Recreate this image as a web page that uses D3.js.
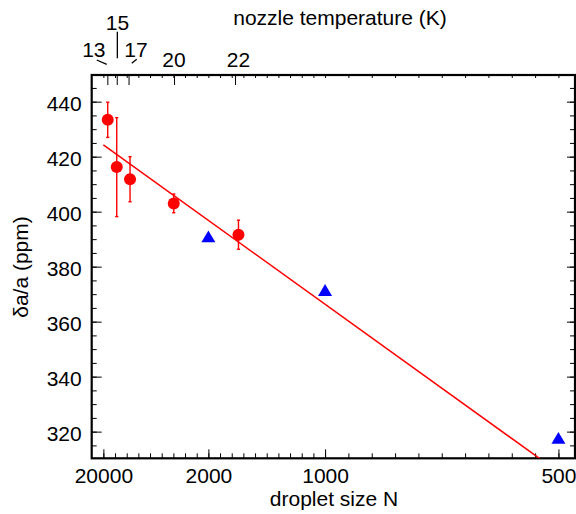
<!DOCTYPE html>
<html>
<head>
<meta charset="utf-8">
<script src="https://cdn.jsdelivr.net/npm/d3@7"></script>
<style>
  html, body { margin: 0; padding: 0; background: #fff; }
  svg text { font-family: "Liberation Sans", Arial, Helvetica, sans-serif; fill: #000; }
</style>
</head>
<body>
<svg id="chart" width="576" height="514"></svg>
<script>
// ---- data ----
// droplet sizes N of the measurements (red circles) and values in ppm with errors
const circleN     = [14560, 9320, 6087, 2844, 1590];
const circleVal   = [433.4, 416.2, 411.8, 403.0, 391.6];
const circleErr   = [6.4, 18.0, 8.2, 3.4, 5.3];
// blue triangles
const triN        = [2000, 1000, 500];
const triVal      = [390.9, 371.4, 317.6];
// fitted line endpoints (N, value)
const fitN        = [20000, 500];
const fitVal      = [424.3, 305.3];
// bottom axis labels (droplet size N)
const bottomTickN = [20000, 2000, 1000, 500];
const bottomTickLabels = ["20000", "2000", "1000", "500"];
// y ticks
const yTicks      = [320, 340, 360, 380, 400, 420, 440];
// top axis: nozzle temperature (K) and corresponding droplet sizes
const topTickN    = [14925, 9320, 6335, 2834, 1628];
const topTickLabels = ["13", "15", "17", "20", "22"];

// ---- layout ----
const W = 576, H = 514;
const L = 91.7, R = 575, T = 75, B = 458.3;
const svg = d3.select("#chart");

const x = d3.scaleLinear().domain([0, 0.002071]).range([L, R]);
const y = d3.scaleLinear().domain([310.3, 449.7]).range([B, T]);
const inv = n => 1 / n;

// minor tick values in 1/N
const minorX = [];
for (let i = 1; i <= 20; i++) minorX.push(+(i * 0.00005).toFixed(6));
for (let i = 11; i <= 20; i++) minorX.push(+(i * 0.0001).toFixed(6));
const minorY = d3.range(315, 450, 5);

const FS = 21;

// clip
svg.append("clipPath").attr("id", "clip").append("rect")
  .attr("x", L).attr("y", T).attr("width", R - L).attr("height", B - T);

// bottom minor ticks
svg.append("g").attr("transform", `translate(0,${B})`)
  .call(d3.axisBottom(x).tickValues(minorX).tickSize(-5).tickFormat(""))
  .call(g => g.select(".domain").remove());
// bottom major ticks + labels
svg.append("g").attr("transform", `translate(0,${B})`)
  .call(d3.axisBottom(x).tickValues(bottomTickN.map(inv)).tickSize(-9).tickPadding(9.8)
        .tickFormat((d, i) => bottomTickLabels[i]))
  .call(g => g.select(".domain").remove())
  .call(g => g.selectAll("text").style("font-size", FS + "px"));

// top minor ticks
svg.append("g").attr("transform", `translate(0,${T})`)
  .call(d3.axisTop(x).tickValues(minorX).tickSize(-3).tickFormat(""))
  .call(g => g.select(".domain").remove());
// top major ticks
svg.append("g").attr("transform", `translate(0,${T})`)
  .call(d3.axisTop(x).tickValues(topTickN.map(inv)).tickSize(-10).tickFormat(""))
  .call(g => g.select(".domain").remove());

// left axis
svg.append("g").attr("transform", `translate(${L},0)`)
  .call(d3.axisLeft(y).tickValues(minorY).tickSize(-5).tickFormat(""))
  .call(g => g.select(".domain").remove());
svg.append("g").attr("transform", `translate(${L},0)`)
  .call(d3.axisLeft(y).tickValues(yTicks).tickSize(-10).tickPadding(10).tickFormat(d3.format("d")))
  .call(g => g.select(".domain").remove())
  .call(g => g.selectAll("text").style("font-size", FS + "px").attr("dy", "0.4em"));

// right axis
svg.append("g").attr("transform", `translate(${R},0)`)
  .call(d3.axisRight(y).tickValues(minorY).tickSize(-5).tickFormat(""))
  .call(g => g.select(".domain").remove());
svg.append("g").attr("transform", `translate(${R},0)`)
  .call(d3.axisRight(y).tickValues(yTicks).tickSize(-8).tickFormat(""))
  .call(g => g.select(".domain").remove());

// frame
svg.append("rect").attr("x", L).attr("y", T).attr("width", R - L).attr("height", B - T)
  .attr("fill", "none").attr("stroke", "#000").attr("stroke-width", 2.2);

// top tick labels with leader lines (annotation offsets)
const topAnno = [
  { dx: -13.5, by: 56.7, line: [[-10.6, 60], [-0.6, 64.3]] },
  { dx: 0.8,   by: 30,   line: [[0.6, 31.7], [0.6, 58.3]] },
  { dx: 7.5,   by: 56.7, line: [[3.2, 63.3], [8.2, 59.3]] },
  { dx: 0,     by: 67.3, line: null },
  { dx: 3.5,   by: 67.3, line: null }
];
const topG = svg.append("g");
topTickN.forEach((n, i) => {
  const cx = x(inv(n)), a = topAnno[i];
  topG.append("text").attr("x", cx + a.dx).attr("y", a.by)
    .attr("text-anchor", "middle").style("font-size", FS + "px").text(topTickLabels[i]);
  if (a.line) {
    topG.append("line")
      .attr("x1", cx + a.line[0][0]).attr("y1", a.line[0][1])
      .attr("x2", cx + a.line[1][0]).attr("y2", a.line[1][1])
      .attr("stroke", "#000").attr("stroke-width", 1.3);
  }
});

// axis titles
svg.append("text").attr("x", 340).attr("y", 25).attr("text-anchor", "middle")
  .style("font-size", FS + "px").text("nozzle temperature (K)");
svg.append("text").attr("x", 334).attr("y", 506).attr("text-anchor", "middle")
  .style("font-size", FS + "px").text("droplet size N");
svg.append("text").attr("transform", "translate(28,267) rotate(-90)").attr("text-anchor", "middle")
  .style("font-size", FS + "px").text("δa/a (ppm)");

// fit line
const plot = svg.append("g").attr("clip-path", "url(#clip)");
plot.append("path")
  .datum(fitN.map((n, i) => [inv(n), fitVal[i]]))
  .attr("d", d3.line().x(d => x(d[0])).y(d => y(d[1])))
  .attr("fill", "none").attr("stroke", "#ff0000").attr("stroke-width", 1.5);

// error bars
const red = "#ff0000";
const eb = svg.append("g").attr("stroke", red).attr("stroke-width", 1.4);
circleN.forEach((n, i) => {
  const cx = x(inv(n));
  const y1 = y(circleVal[i] + circleErr[i]), y2 = y(circleVal[i] - circleErr[i]);
  eb.append("line").attr("x1", cx).attr("x2", cx).attr("y1", y1).attr("y2", y2);
  eb.append("line").attr("x1", cx - 1.6).attr("x2", cx + 1.6).attr("y1", y1).attr("y2", y1);
  eb.append("line").attr("x1", cx - 1.6).attr("x2", cx + 1.6).attr("y1", y2).attr("y2", y2);
});

// circles
svg.append("g").selectAll("circle").data(circleN).join("circle")
  .attr("cx", d => x(inv(d))).attr("cy", (d, i) => y(circleVal[i])).attr("r", 6)
  .attr("fill", red);

// triangles
svg.append("g").selectAll("path").data(triN).join("path")
  .attr("transform", (d, i) => `translate(${x(inv(d))},${y(triVal[i])})`)
  .attr("d", "M0,-6.2 L7,5.6 L-7,5.6 Z")
  .attr("fill", "#0000ff");
</script>
</body>
</html>
